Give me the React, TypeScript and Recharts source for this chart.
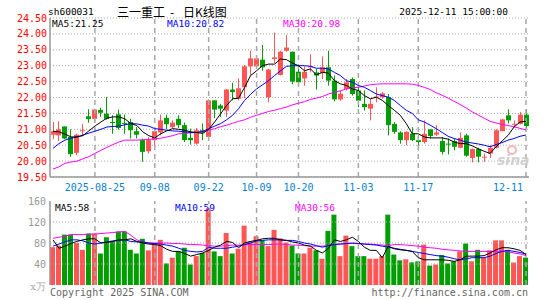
import React from 'react';
import { ComposedChart, Bar, Line, XAxis, YAxis, CartesianGrid, ReferenceLine, Cell } from 'recharts';

const openP = [20.83,20.81,21.09,20.76,20.26,20.95,21.41,21.33,21.61,21.49,21.23,21.47,21.20,21.23,20.94,20.66,20.31,20.66,20.90,21.36,21.07,21.33,21.13,20.73,20.55,20.97,20.76,21.91,21.75,21.59,22.25,21.96,22.32,22.98,22.98,23.19,22.01,23.21,22.71,23.47,23.44,22.81,22.60,22.96,22.79,22.77,22.95,22.53,21.94,22.27,22.58,22.22,21.80,21.65,22.00,22.01,22.01,21.17,20.90,20.66,20.86,20.66,20.60,21.00,20.83,20.63,20.55,20.63,20.42,20.81,20.10,20.38,20.12,20.24,20.42,20.94,21.44,21.15,21.17,21.46];
const closeP = [20.94,21.00,20.71,20.22,20.83,20.97,21.32,21.62,21.52,21.33,21.21,21.04,21.18,20.97,20.83,20.29,20.66,20.94,21.28,21.16,21.21,21.13,20.66,20.66,20.97,20.90,21.91,21.62,21.65,22.25,22.17,22.29,22.98,23.23,23.23,22.95,22.88,23.26,23.44,23.57,22.50,22.48,22.81,22.98,22.69,22.95,22.53,21.94,22.12,22.48,22.11,21.90,21.70,21.80,22.03,22.13,21.13,20.92,20.66,20.92,20.66,20.60,20.86,20.79,20.90,20.29,20.52,20.45,20.73,20.17,20.38,20.14,20.14,20.42,20.97,21.31,21.28,21.17,21.46,21.10];
const highP = [21.23,21.25,21.09,21.00,20.86,21.16,21.63,21.65,21.68,22.01,21.44,21.62,21.46,21.33,21.07,20.71,20.76,21.02,21.46,21.46,21.28,21.44,21.21,21.02,21.04,21.18,21.94,21.91,21.80,22.27,22.46,22.60,23.02,23.47,23.30,23.65,22.90,24.04,23.47,23.96,23.44,23.05,22.98,23.36,22.90,23.29,23.47,22.69,22.22,22.58,22.63,22.32,22.22,21.96,22.32,22.17,22.11,21.23,20.94,20.94,21.07,20.81,21.28,21.00,21.13,20.76,20.71,20.71,20.90,20.86,20.40,20.42,20.24,20.50,21.00,21.33,21.63,21.28,21.54,21.63];
const lowP = [20.69,20.63,20.69,20.14,20.19,20.81,21.21,21.21,21.39,21.30,20.86,20.99,20.86,20.71,20.71,19.98,20.24,20.37,20.81,21.00,21.02,21.04,20.60,20.52,20.52,20.66,20.71,21.35,21.39,21.39,21.91,21.91,21.98,22.69,22.90,22.84,21.85,23.08,22.69,23.44,22.42,22.35,22.37,22.79,22.25,22.58,22.37,21.88,21.90,22.22,22.06,21.70,21.59,21.28,21.85,21.96,20.81,20.86,20.55,20.50,20.63,20.34,20.55,20.71,20.79,20.21,20.21,20.34,20.40,20.14,19.96,19.96,19.98,20.10,20.40,20.94,21.18,21.07,21.15,21.02];

const ma5P = [20.94,20.92,20.85,20.76,20.76,20.80,20.95,21.10,21.23,21.35,21.39,21.39,21.33,21.18,21.12,20.92,20.80,20.73,20.86,20.95,21.02,21.00,20.97,20.92,20.90,20.87,21.00,21.23,21.49,21.75,21.96,21.98,22.32,22.69,22.84,23.00,23.05,23.05,23.21,23.19,23.08,23.00,22.84,22.90,22.71,22.79,22.77,22.53,22.43,22.38,22.27,22.22,22.06,21.96,22.01,21.91,21.75,21.60,21.44,21.18,20.86,20.86,20.76,20.73,20.73,20.73,20.69,20.60,20.55,20.55,20.48,20.39,20.31,20.24,20.45,20.63,20.81,21.07,21.23,21.25];
const ma10P = [20.40,20.55,20.66,20.72,20.76,20.82,20.88,20.94,21.00,21.07,21.09,21.10,21.14,21.18,21.17,21.13,21.10,21.02,21.00,20.97,20.95,20.94,20.92,20.90,20.90,20.93,21.02,21.10,21.18,21.30,21.44,21.65,21.91,22.10,22.27,22.40,22.53,22.69,22.84,22.98,23.00,23.00,23.00,22.98,22.92,22.92,22.90,22.79,22.69,22.53,22.48,22.38,22.32,22.22,22.11,22.06,22.01,21.91,21.75,21.60,21.50,21.30,21.23,21.13,21.02,20.90,20.78,20.71,20.66,20.60,20.57,20.54,20.50,20.45,20.52,20.58,20.66,20.71,20.78,20.82];
const ma30P = [19.75,19.82,19.93,19.97,20.00,20.07,20.14,20.24,20.34,20.43,20.52,20.60,20.66,20.66,20.66,20.67,20.68,20.70,20.72,20.76,20.80,20.86,20.87,20.89,20.90,20.93,20.97,21.02,21.08,21.13,21.19,21.25,21.30,21.38,21.44,21.50,21.56,21.60,21.65,21.70,21.77,21.82,21.87,21.94,21.98,22.03,22.11,22.16,22.21,22.27,22.30,22.32,22.36,22.40,22.42,22.43,22.43,22.43,22.43,22.43,22.42,22.38,22.32,22.25,22.15,22.07,21.98,21.88,21.78,21.67,21.55,21.45,21.35,21.25,21.20,21.15,21.12,21.08,21.03,20.98];

const volume = [72,75,96,96,80,67,98,98,60,91,83,102,102,67,60,88,66,79,86,41,52,64,71,39,55,61,146,64,55,99,60,69,113,83,93,85,74,105,89,81,75,60,60,71,66,50,103,134,55,94,74,55,55,50,50,55,134,58,47,49,43,45,77,37,39,57,41,45,64,79,45,67,52,66,85,85,67,43,55,52];
const ma5V = [86,70,74,79,83,86,88,88,80,81,83,86,86,88,83,80,78,77,75,68,64,64,60,55,58,61,66,72,76,83,81,71,80,83,85,88,89,89,86,85,82,80,76,74,66,61,70,86,83,86,91,83,72,66,66,52,74,69,67,66,64,52,48,48,48,48,47,45,48,55,55,55,56,61,67,71,71,69,66,58];
const ma10V = [74,78,82,86,86,84,80,78,80,82,84,85,86,83,82,82,80,79,78,76,74,70,66,64,63,64,72,70,70,70,72,74,77,80,84,85,86,86,86,85,85,83,80,78,75,72,75,77,78,79,80,79,78,77,76,74,72,70,68,66,64,62,60,58,56,55,53,50,48,50,52,52,52,55,60,64,66,64,62,59];
const ma30V = [89,91,93,96,96,96,97,97,98,99,100,101,102,95,86,82,80,80,80,80,79,79,78,77,77,76,75,74,74,75,76,76,77,77,77,77,77,78,78,77,76,76,75,74,74,74,75,77,78,79,79,79,78,78,77,76,75,77,77,76,75,74,72,71,70,68,67,66,65,64,64,64,64,64,64,64,63,61,59,56];

const tickIdx = [7, 17, 26, 34, 41, 51, 61, 79];
const tickLabels = ['2025-08-25', '09-08', '09-22', '10-09', '10-20', '11-03', '11-17', '12-11'];
const priceTicks = [19.5, 20, 20.5, 21, 21.5, 22, 22.5, 23, 23.5, 24, 24.5];
const volTicks = [0, 40, 80, 120, 160];

const RED = '#ff5555';
const GREEN = '#009e00';
const GRID = '#a8a8a8';
const FRAME = '#999999';
const MONO = '"DejaVu Sans Mono", monospace';
const CJK = '"Noto Sans CJK SC", sans-serif';

const rows = openP.map((o, i) => ({
  i,
  o,
  c: closeP[i],
  h: highP[i],
  l: lowP[i],
  ma5: ma5P[i],
  ma10: ma10P[i],
  ma30: ma30P[i],
  v: volume[i],
  vm5: ma5V[i],
  vm10: ma10V[i],
  vm30: ma30V[i],
}));

const Candle = (props: any) => {
  const { x, y, width, height, payload } = props;
  if (x == null || y == null || !payload) return null;
  const top = Math.min(y, y + height);
  const bot = Math.max(y, y + height);
  const span = payload.h - payload.l;
  const k = span > 0 ? (bot - top) / span : 0;
  const yo = top + (payload.h - payload.o) * k;
  const yc = top + (payload.h - payload.c) * k;
  const up = payload.c >= payload.o;
  const color = up ? RED : GREEN;
  const cx = Math.round(x + width / 2) + 0.5;
  const bt = Math.min(yo, yc);
  const bh = Math.max(1, Math.abs(yc - yo));
  return (
    <g>
      <line x1={cx} x2={cx} y1={top} y2={bot} stroke={color} strokeWidth={1} />
      <rect x={cx - 2.5} y={bt} width={5} height={bh} fill={color} />
    </g>
  );
};

const DateTick = (props: any) => {
  const { x, y, payload } = props;
  const k = tickIdx.indexOf(payload.value);
  if (k < 0) return null;
  const last = k === tickIdx.length - 1;
  return (
    <text x={last ? x - 3 : x} y={y + 1} textAnchor={last ? 'end' : 'middle'} dominantBaseline="central" fontFamily={MONO} fontSize={10} fill="#0a7fd0">
      {tickLabels[k]}
    </text>
  );
};

const VolTick = (props: any) => {
  const { x, y, payload } = props;
  if (payload.value === 0) {
    return (
      <text x={x} y={y + 1} textAnchor="end" dominantBaseline="central" fontFamily='"DejaVu Serif", serif' fontSize={10} fill="#aaaaaa">x万</text>
    );
  }
  return (
    <text x={x} y={y} textAnchor="end" dominantBaseline="central" fontFamily={MONO} fontSize={10} fill="#999999">{payload.value}</text>
  );
};

const PriceTick = (props: any) => {
  const { x, y, payload } = props;
  return (
    <text x={x} y={y} textAnchor="end" dominantBaseline="central" fontFamily={MONO} fontSize={10} fill="#ff0000">{Number(payload.value).toFixed(2)}</text>
  );
};

export default function App() {
  return (
    <div style={{ position: 'absolute', left: 0, top: 0, width: 545, height: 300, background: '#fff' }}>
      <div style={{ position: 'absolute', left: 0, top: 0 }}>
        <ComposedChart width={545} height={195} data={rows} margin={{ top: 18, right: 16, bottom: 0, left: 0 }} barCategoryGap={0}>
          <CartesianGrid vertical={false} stroke={GRID} strokeDasharray="1 2" />
          {tickIdx.map((t) => (
            <ReferenceLine key={t} x={t} stroke={GRID} strokeWidth={1.5} strokeDasharray="5 4" />
          ))}
          <XAxis dataKey="i" type="category" ticks={tickIdx} interval={0} tick={<DateTick />} tickLine={false} tickSize={0} tickMargin={9} height={18} axisLine={{ stroke: FRAME, strokeWidth: 1.5 }} />
          <XAxis xAxisId="t" dataKey="i" orientation="top" tick={false} tickLine={false} height={0} axisLine={{ stroke: FRAME, strokeWidth: 1.5 }} />
          <YAxis domain={[19.5, 24.5]} ticks={priceTicks} interval={0} allowDataOverflow width={50} tick={<PriceTick />} tickLine={false} tickSize={0} tickMargin={3} axisLine={{ stroke: FRAME, strokeWidth: 1.5 }} />
          <YAxis yAxisId="r" orientation="right" domain={[0, 1]} tick={false} tickLine={false} width={0} axisLine={{ stroke: FRAME, strokeWidth: 1.5 }} />
          <Bar dataKey={(d: any) => [d.l, d.h]} barSize={5} shape={<Candle />} isAnimationActive={false} />
          <Line dataKey="ma30" stroke="#ff00ff" strokeWidth={1} dot={false} isAnimationActive={false} />
          <Line dataKey="ma10" stroke="#0000ff" strokeWidth={1} dot={false} isAnimationActive={false} />
          <Line dataKey="ma5" stroke="#000000" strokeWidth={1} dot={false} isAnimationActive={false} />
        </ComposedChart>
      </div>
      <div style={{ position: 'absolute', left: 0, top: 195 }}>
        <ComposedChart width={545} height={105} data={rows} margin={{ top: 6, right: 16, bottom: 15, left: 0 }} barCategoryGap={0}>
          {[40, 80, 120].map((g) => (
            <ReferenceLine key={g} y={g} stroke={GRID} strokeDasharray="1 2" />
          ))}
          {tickIdx.map((t) => (
            <ReferenceLine key={t} x={t} stroke={GRID} strokeWidth={1.5} strokeDasharray="5 4" />
          ))}
          <XAxis dataKey="i" type="category" hide />
          <XAxis xAxisId="t" dataKey="i" orientation="top" tick={false} tickLine={false} height={0} axisLine={{ stroke: FRAME, strokeWidth: 1.5 }} />
          <YAxis domain={[0, 160]} ticks={volTicks} interval={0} allowDataOverflow width={50} tick={<VolTick />} tickLine={false} tickSize={0} tickMargin={4} axisLine={{ stroke: FRAME, strokeWidth: 1.5 }} />
          <YAxis yAxisId="r" orientation="right" domain={[0, 1]} tick={false} tickLine={false} width={0} axisLine={{ stroke: FRAME, strokeWidth: 1.5 }} />
          <Bar dataKey="v" barSize={5} isAnimationActive={false}>
            {rows.map((r) => (
              <Cell key={r.i} fill={r.c >= r.o ? RED : GREEN} />
            ))}
          </Bar>
          <Line dataKey="vm30" stroke="#ff00ff" strokeWidth={1} dot={false} isAnimationActive={false} />
          <Line dataKey="vm10" stroke="#0000ff" strokeWidth={1} dot={false} isAnimationActive={false} />
          <Line dataKey="vm5" stroke="#000000" strokeWidth={1} dot={false} isAnimationActive={false} />
        </ComposedChart>
      </div>
      <svg width={545} height={300} style={{ position: 'absolute', left: 0, top: 0, pointerEvents: 'none' }}>
        <text x={48} y={11} dominantBaseline="central" fontFamily={MONO} fontSize={9.5} fill="#000">sh600031</text>
        <text x={117} y={11} dominantBaseline="central" fontFamily={CJK} fontSize={12} fill="#000">三一重工</text>
        <text x={172} y={11} textAnchor="middle" dominantBaseline="central" fontFamily={CJK} fontSize={12} fill="#000">-</text>
        <text x={183} y={11} dominantBaseline="central" fontFamily={CJK} fontSize={12} fill="#000">日K线图</text>
        <text x={508} y={11} textAnchor="end" dominantBaseline="central" fontFamily={MONO} fontSize={9.5} fill="#000">2025-12-11 15:00:00</text>
        <text x={52} y={23.5} dominantBaseline="central" fontFamily={MONO} fontSize={9.5} fill="#000">MA5:21.25</text>
        <text x={167} y={23.5} dominantBaseline="central" fontFamily={MONO} fontSize={9.5} fill="#0000ff">MA10:20.82</text>
        <text x={283} y={23.5} dominantBaseline="central" fontFamily={MONO} fontSize={9.5} fill="#ff00ff">MA30:20.98</text>
        <text x={55} y={207} dominantBaseline="central" fontFamily={MONO} fontSize={9.5} fill="#000">MA5:58</text>
        <text x={175} y={207} dominantBaseline="central" fontFamily={MONO} fontSize={9.5} fill="#0000ff">MA10:59</text>
        <text x={295} y={207} dominantBaseline="central" fontFamily={MONO} fontSize={9.5} fill="#ff00ff">MA30:56</text>
        <text x={50} y={292} dominantBaseline="central" fontFamily={MONO} fontSize={10} fill="#666">Copyright 2025 SINA.COM</text>
        <text x={528} y={292} textAnchor="end" dominantBaseline="central" fontFamily={MONO} fontSize={10} fill="#666">http://finance.sina.com.cn</text>
        <circle cx={512} cy={150} r={4} fill="none" stroke="#f2b8b8" strokeWidth={2} />
        <text x={497} y={165} fontFamily='"DejaVu Sans", sans-serif' fontStyle="italic" fontWeight="bold" fontSize={14} fill="#c8c8c8" opacity={0.8}>sina</text>
      </svg>
    </div>
  );
}
